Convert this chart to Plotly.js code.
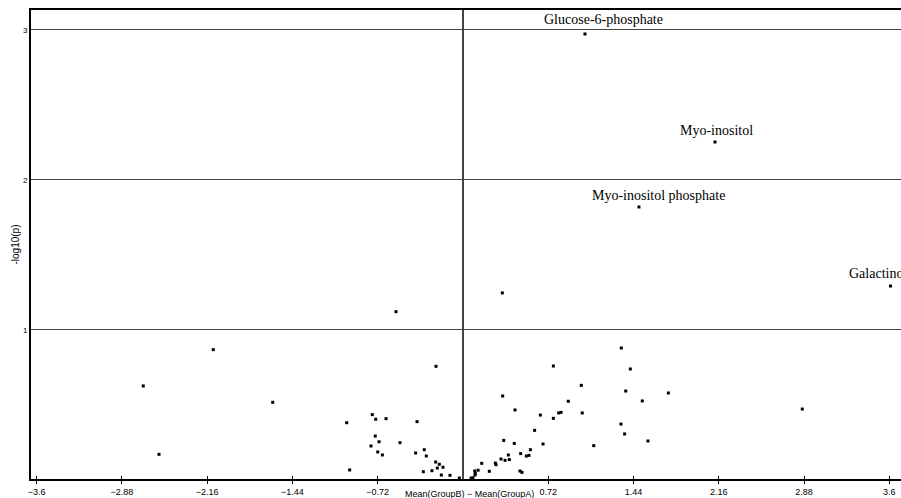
<!DOCTYPE html>
<html>
<head>
<meta charset="utf-8">
<script src="https://cdn.plot.ly/plotly-3.0.1.min.js"></script>
<style>html,body{margin:0;padding:0;overflow:hidden;background:#fff;}#chart{width:904px;height:498px;}</style>
</head>
<body>
<div id="chart"></div>
<script>
// Labeled metabolites
const labelNames = ["Glucose-6-phosphate", "Myo-inositol", "Myo-inositol phosphate", "Galactinol"];
const labelX = [1.030, 2.128, 1.486, 3.610];
const labelY = [2.973, 2.253, 1.820, 1.293];

// Other metabolites: difference of means and -log10(p)
const diffX = [
  -2.700, -2.567, -2.109, -1.607, -0.982, -0.957, -0.766, -0.737, -0.650, -0.388,
  -0.741, -0.709, -0.777, -0.532, -0.720, -0.681, -0.400, -0.327, -0.310, -0.231,
  -0.200, -0.217, -0.169, -0.335, -0.262, -0.183, -0.110, -0.031, -0.566, -0.228,
  0.025, 0.332, 0.999, 0.335, 0.889, 0.439, 0.653, 0.808, 0.828, 1.007,
  0.763, 0.605, 0.763, 1.104, 1.337, 1.413, 1.374, 1.734, 1.514, 1.334,
  1.365, 1.562, 2.865, 0.344, 0.433, 0.676, 0.569, 0.487, 0.535, 0.557,
  0.383, 0.321, 0.355, 0.391, 0.273, 0.279, 0.158, 0.222, 0.481, 0.498,
  0.127, 0.099, 0.104, 0.101, 0.084, 0.068, 0.180
];
const negLogP = [
  0.627, 0.171, 0.869, 0.518, 0.382, 0.067, 0.436, 0.405, 0.409, 0.389,
  0.293, 0.255, 0.227, 0.249, 0.187, 0.167, 0.180, 0.202, 0.160, 0.120,
  0.105, 0.080, 0.085, 0.055, 0.062, 0.033, 0.031, 0.013, 1.122, 0.758,
  0.000, 1.247, 0.631, 0.560, 0.525, 0.467, 0.433, 0.447, 0.451, 0.447,
  0.411, 0.331, 0.760, 0.229, 0.880, 0.740, 0.593, 0.580, 0.527, 0.373,
  0.307, 0.260, 0.473, 0.264, 0.244, 0.240, 0.202, 0.176, 0.160, 0.164,
  0.167, 0.140, 0.131, 0.136, 0.113, 0.102, 0.111, 0.058, 0.060, 0.051,
  0.065, 0.060, 0.044, 0.033, 0.015, 0.013, 0.005
];

const xTickVals = [-3.6, -2.88, -2.16, -1.44, -0.72, 0.72, 1.44, 2.16, 2.88, 3.6];
const xTickText = ["\u22123.6", "\u22122.88", "\u22122.16", "\u22121.44", "\u22120.72", "0.72", "1.44", "2.16", "2.88", "3.6"];
const yTickVals = [1, 2, 3];
const yTickText = ["1", "2", "3"];
const xTitle = "Mean(GroupB) \u2212 Mean(GroupA)";
const yTitle = "-log10(p)";

const xRange = [-3.648, 3.724];
const yRange = [0.0067, 3.133];

// label placement offsets (pixels) relative to each labeled point
const labelShift = {
  "Glucose-6-phosphate": [19, 5],
  "Myo-inositol": [1, 2],
  "Myo-inositol phosphate": [20, 2],
  "Galactinol": [-13, 3]
};

const sansFont = "Liberation Sans, Arial, sans-serif";
const tickFont = {family: sansFont, size: 9, color: "#000"};

const traces = [
  {
    type: "scatter", mode: "markers",
    x: diffX.concat(labelX), y: negLogP.concat(labelY),
    marker: {symbol: "square", size: 3, color: "#000", line: {width: 0}},
    cliponaxis: false, hoverinfo: "x+y", showlegend: false
  },
  {
    type: "scatter", mode: "markers", x: [], y: [],
    xaxis: "x2", yaxis: "y", showlegend: false, hoverinfo: "skip"
  }
];

const annotations = labelNames.map((n, i) => ({
  x: labelX[i], y: labelY[i], xref: "x", yref: "y",
  text: n, showarrow: false, xanchor: "center", yanchor: "bottom",
  xshift: labelShift[n][0], yshift: labelShift[n][1],
  font: {family: "Liberation Serif, Times New Roman, serif", size: 14, color: "#000"}
}));
// x-axis title placed as a paper annotation just below the tick labels
annotations.push({
  x: 0.5, y: 0, xref: "paper", yref: "paper", xanchor: "center", yanchor: "top",
  xshift: 2, yshift: -8, showarrow: false, text: xTitle,
  font: {family: sansFont, size: 9, color: "#000"}
});

const layout = {
  width: 904, height: 498,
  margin: {l: 31, r: 0, t: 10, b: 19, pad: 0},
  paper_bgcolor: "#fff", plot_bgcolor: "#fff",
  showlegend: false,
  xaxis: {
    range: xRange, tickmode: "array", tickvals: xTickVals, ticktext: xTickText,
    ticks: "outside", ticklen: 3, tickwidth: 1, tickcolor: "#000",
    tickfont: tickFont, showgrid: false,
    zeroline: true, zerolinecolor: "#444", zerolinewidth: 2,
    showline: true, linecolor: "#000", linewidth: 2, mirror: true,
    automargin: false, fixedrange: true
  },
  xaxis2: {
    range: xRange, overlaying: "x", anchor: "y", side: "bottom",
    tickmode: "array", tickvals: xTickVals, showticklabels: false,
    ticks: "inside", ticklen: 3, tickwidth: 1, tickcolor: "#000",
    showgrid: false, zeroline: false, showline: false, fixedrange: true
  },
  yaxis: {
    range: yRange, tickmode: "array", tickvals: yTickVals, ticktext: yTickText,
    ticks: "", tickfont: {family: sansFont, size: 8, color: "#000"},
    showgrid: true, gridcolor: "#444", gridwidth: 1,
    zeroline: false,
    showline: true, linecolor: "#000", linewidth: 2, mirror: true,
    title: {text: yTitle, standoff: 1, font: {family: sansFont, size: 10, color: "#000"}},
    automargin: false, fixedrange: true
  },
  annotations: annotations
};

Plotly.newPlot("chart", traces, layout, {displayModeBar: false, staticPlot: true});
</script>
</body>
</html>
